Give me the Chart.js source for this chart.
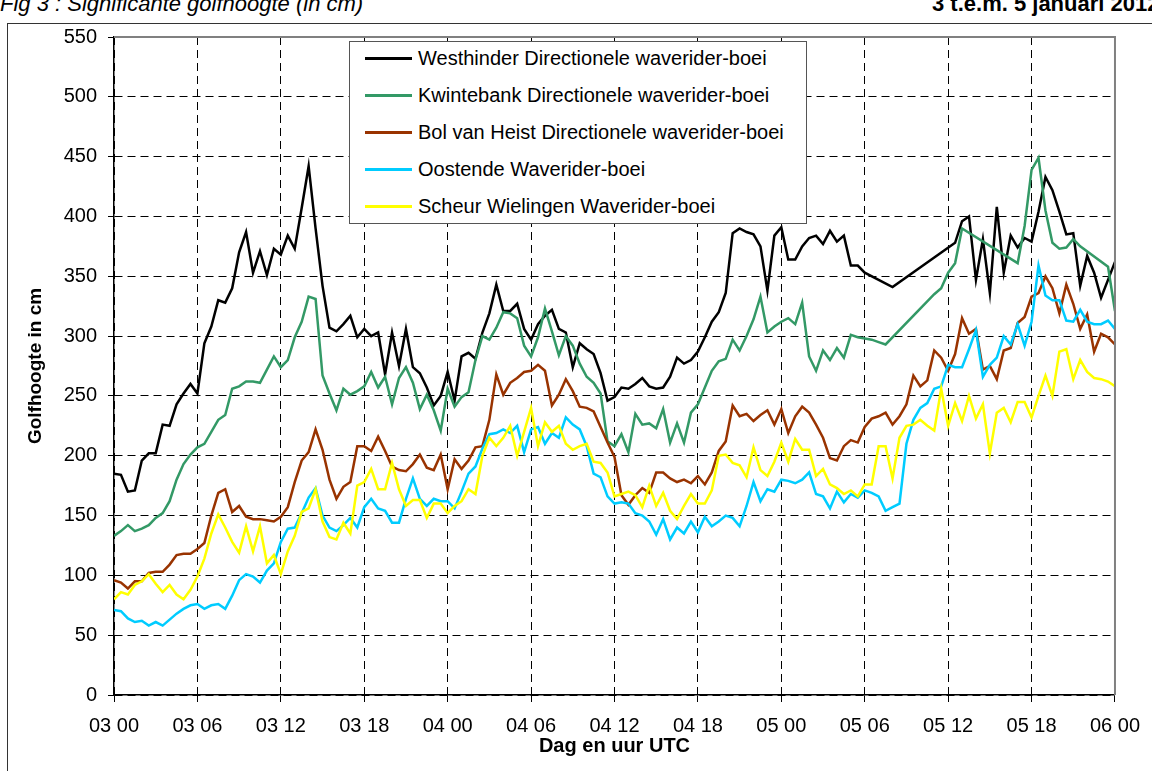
<!DOCTYPE html>
<html>
<head>
<meta charset="utf-8">
<script src="https://cdn.jsdelivr.net/npm/chart.js@4.4.0/dist/chart.umd.min.js"></script>
<style>
  html, body { margin: 0; padding: 0; background: #fff; overflow: hidden; width: 1152px; height: 771px; }
  body { position: relative; font-family: "Liberation Sans", Arial, sans-serif; color: #000; }
  #frame { position: absolute; left: 7px; top: 23px; width: 1200px; height: 800px; border: 1.5px solid #333; }
  #fig { position: absolute; left: 0; top: -7px; font-size: 22px; line-height: 22px; font-style: italic; white-space: nowrap; }
  #period { position: absolute; left: 932px; top: -7px; font-size: 22px; line-height: 22px; font-weight: bold; white-space: nowrap; }
  #chart { position: absolute; left: 0; top: 0; }
  #legend { position: absolute; left: 349px; top: 41px; width: 458px; height: 183px; box-sizing: border-box;
            border: 1.5px solid #555; background: #fff; }
  .row { position: absolute; left: 0; height: 24px; display: flex; align-items: center; font-size: 20px; white-space: nowrap; }
  .swatch { width: 47px; height: 3px; margin-left: 15px; margin-right: 6px; }
</style>
</head>
<body>
<div id="frame"></div>
<div id="fig">Fig 3 : Significante golfhoogte (in cm)</div>
<div id="period">3 t.e.m. 5 januari 2012</div>
<canvas id="chart" width="1152" height="771"></canvas>
<div id="legend"></div>
<script>
  // half-hourly values, 03 jan 00:00 .. 06 jan 00:00 (null = no data, line spans the gap)
  const stepHours = 0.5;
  const tickLabels = ['03 00', '03 06', '03 12', '03 18', '04 00', '04 06', '04 12',
                      '04 18', '05 00', '05 06', '05 12', '05 18', '06 00'];
  const seriesNames = ['Westhinder Directionele waverider-boei', 'Kwintebank Directionele waverider-boei',
                       'Bol van Heist Directionele waverider-boei', 'Oostende Waverider-boei',
                       'Scheur Wielingen Waverider-boei'];
  const seriesColors = ['#000000', '#339966', '#993300', '#00CCFF', '#FFFF00'];

  const westhinder = [
    185, 184, 170, 171, 196, 202, 202, 226, 225, 243, 252, 260,
    252, 294, 308, 330, 328, 340, 370, 387, 353, 371, 351, 373,
    368, 384, 373, 407, 442, 390, 342, 307, 304, 310, 317, 299,
    306, 300, 303, 268, 303, 275, 306, 274, 269, 257, 242, 250,
    270, 246, 283, 286, 281, 303, 319, 343, 321, 321, 327, 306,
    297, 310, 317, 322, 306, 303, 274, 294, 289, 285, 269, 246,
    249, 257, 256, 260, 265, 258, 256, 257, 266, 282, 277, 280,
    287, 299, 312, 320, 336, 386, 390, 387, 385, 375, 338, 384,
    391, 364, 364, 375, 382, 384, 377, 388, 379, 384, 359, 359,
    353, null, null, null, 341, null, null, null, null, null, null, null,
    null, 378, 396, 400, 347, 381, 336, 408, 353, 384, 374, 382,
    379, 404, 433, 422, 404, 385, 386, 342, 367, 353, 332, 347,
    362
  ];
  const kwintebank = [
    133, 137, 142, 137, 139, 142, 148, 152, 162, 180, 193, 201,
    207, 210, 220, 230, 234, 256, 258, 262, 262, 261, 272, 283,
    274, 280, 299, 312, 333, 331, 267, 252, 238, 256, 251, 254,
    258, 270, 257, 266, 243, 265, 274, 261, 239, 251, 238, 221,
    256, 241, 249, 253, 280, 300, 297, 307, 320, 319, 315, 292,
    283, 299, 323, 304, 284, 300, 292, 277, 266, 261, 252, 212,
    208, 218, 203, 235, 226, 227, 223, 239, 211, 227, 211, 236,
    243, 257, 271, 279, 281, 297, 288, 300, 314, 333, 303, 308,
    312, 315, 310, 328, 283, 271, 288, 280, 290, 282, 301, 299,
    298, 297, 295, 293, null, null, null, null, null, null, 335, 340,
    353, 361, 390, null, null, null, null, null, null, null, 361, 392,
    439, 449, 405, 378, 373, 374, 381, 375, null, null, null, 358,
    321
  ];
  const bolVanHeist = [
    96, 94, 89, 95, 95, 102, 103, 103, 109, 117, 118, 118,
    122, 127, 150, 169, 172, 153, 158, 149, 147, 147, 146, 145,
    149, 157, 178, 196, 203, 222, 205, 180, 164, 174, 178, 208,
    208, 204, 216, 204, 191, 188, 187, 193, 201, 190, 188, 201,
    172, 197, 189, 196, 207, 208, 230, 268, 251, 261, 265, 270,
    271, 276, 271, 242, 251, 264, 254, 241, 240, 237, 224, 211,
    199, 167, 159, 167, 173, 169, 186, 186, 181, 178, 180, 177,
    183, 176, 186, 204, 212, 242, 233, 235, 229, 234, 238, 226,
    239, 219, 233, 241, 236, 226, 215, 198, 196, 208, 213, 211,
    224, 231, 233, 236, 226, 233, 243, 267, 258, 263, 288, 282,
    271, 285, 315, 302, 306, 272, 275, 264, 288, 290, 311, 316,
    333, 336, 350, 340, 319, 343, 327, 306, 318, 287, 302, 299,
    293
  ];
  const oostende = [
    71, 70, 64, 61, 62, 58, 61, 58, 63, 68, 72, 75,
    76, 72, 75, 76, 72, 83, 96, 101, 99, 94, 104, 110,
    128, 139, 140, 152, 165, 173, 150, 140, 137, 142, 148, 140,
    157, 164, 156, 154, 144, 144, 164, 181, 164, 158, 164, 162,
    162, 156, 170, 185, 191, 206, 218, 219, 222, 219, 225, 203,
    222, 224, 210, 219, 215, 232, 226, 222, 208, 185, 182, 166,
    160, 161, 160, 152, 150, 145, 134, 147, 130, 140, 135, 145,
    136, 149, 141, 145, 150, 148, 141, 158, 178, 162, 172, 170,
    180, 179, 177, 180, 186, 168, 166, 156, 170, 161, 168, 165,
    171, 169, 166, 154, 157, 160, 210, 230, 240, 244, 256, 258,
    276, 274, 274, 289, 305, 266, 276, 282, 300, 293, 310, 292,
    312, 359, 334, 330, 330, 313, 312, 322, 312, 310, 310, 313,
    306
  ];
  const scheurWielingen = [
    80, 86, 84, 92, 95, 101, 93, 86, 92, 84, 80, 88,
    99, 114, 135, 151, 140, 128, 119, 141, 120, 141, 110, 117,
    101, 120, 133, 153, 156, 172, 145, 132, 130, 144, 135, 175,
    178, 189, 172, 172, 194, 172, 158, 163, 163, 148, 160, 160,
    152, 158, 162, 172, 168, 200, 215, 208, 215, 225, 200, 220,
    240, 208, 228, 220, 225, 210, 205, 208, 210, 195, 194, 186,
    166, 168, 170, 167, 157, 175, 158, 169, 154, 147, 158, 168,
    160, 160, 171, 200, 201, 194, 192, 182, 207, 188, 183, 195,
    211, 195, 214, 205, 205, 183, 189, 176, 173, 168, 171, 166,
    176, 176, 208, 208, 181, 215, 225, 226, 230, 225, 221, 256,
    225, 244, 229, 250, 231, 243, 202, 236, 240, 228, 245, 245,
    232, 250, 267, 250, 287, 289, 264, 280, 270, 265, 264, 262,
    258
  ];

  const seriesValues = [westhinder, kwintebank, bolVanHeist, oostende, scheurWielingen];

  Chart.defaults.font.family = '"Liberation Sans", Arial, sans-serif';
  Chart.defaults.color = '#000';

  // grey top and right edge of the plot area
  const plotEdge = {
    id: 'plotEdge',
    afterDraw(chart) {
      const a = chart.chartArea, c = chart.ctx;
      c.save();
      c.strokeStyle = '#808080';
      c.lineWidth = 2;
      c.beginPath();
      c.moveTo(a.left, a.top);
      c.lineTo(a.right, a.top);
      c.lineTo(a.right, a.bottom);
      c.stroke();
      c.restore();
    }
  };

  const datasets = seriesValues.map((vals, i) => ({
    label: seriesNames[i],
    data: vals.map((v, j) => ({ x: j * stepHours, y: v })),
    borderColor: seriesColors[i],
    backgroundColor: seriesColors[i],
    borderWidth: 2.5,
    pointRadius: 0,
    tension: 0,
    spanGaps: true,
    order: seriesValues.length - i
  }));

  new Chart(document.getElementById('chart').getContext('2d'), {
    type: 'line',
    data: { datasets: datasets },
    options: {
      responsive: false,
      animation: false,
      events: [],
      layout: { padding: { top: 37, right: 34, left: 0, bottom: 0 } },
      plugins: { legend: { display: false }, tooltip: { enabled: false } },
      scales: {
        x: {
          type: 'linear',
          min: 0,
          max: 72,
          afterFit: (s) => { s.height = 76; },
          ticks: {
            stepSize: 6,
            autoSkip: false,
            maxRotation: 0,
            padding: 12,
            font: { size: 20 },
            callback: (v) => tickLabels[v / 6]
          },
          grid: { color: '#000', lineWidth: 1, tickLength: 7, tickColor: '#000', tickBorderDash: [] },
          border: { color: '#000', width: 1.5, dash: [8, 5] },
          title: { display: true, text: 'Dag en uur UTC', font: { size: 20, weight: 'bold' }, padding: { top: 0, bottom: 13 } }
        },
        y: {
          min: 0,
          max: 550,
          afterFit: (s) => { s.width = 114; },
          ticks: { stepSize: 50, padding: 11, font: { size: 20 } },
          grid: { color: '#000', lineWidth: 1, tickLength: 6, tickColor: '#000', tickBorderDash: [] },
          border: { color: '#000', width: 1.5, dash: [8, 5] },
          title: { display: true, text: 'Golfhoogte in cm', font: { size: 19, weight: 'bold' }, padding: { top: 24, bottom: 0 } }
        }
      }
    },
    plugins: [plotEdge]
  });

  // legend box inside the plot, as in the original
  const legend = document.getElementById('legend');
  seriesNames.forEach((name, i) => {
    const row = document.createElement('div');
    row.className = 'row';
    row.style.top = (18.3 + 36.8 * i - 12 - 1.5) + 'px';
    const sw = document.createElement('span');
    sw.className = 'swatch';
    sw.style.background = seriesColors[i];
    const tx = document.createElement('span');
    tx.textContent = name;
    row.appendChild(sw);
    row.appendChild(tx);
    legend.appendChild(row);
  });
</script>
</body>
</html>
